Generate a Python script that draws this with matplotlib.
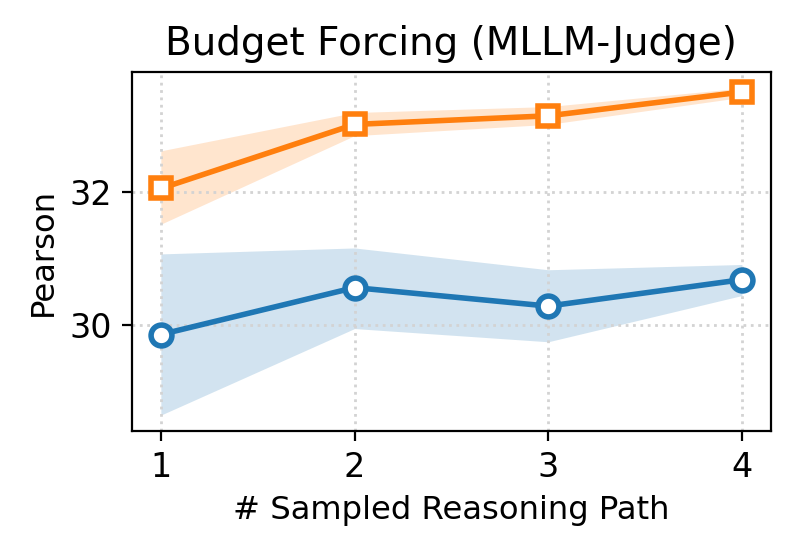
import numpy as np
import matplotlib.pyplot as plt

paths = [1, 2, 3, 4]

# blue series (circles)
blue_mean = [29.85, 30.56, 30.28, 30.68]
blue_low = [28.63, 29.94, 29.74, 30.44]
blue_high = [31.07, 31.16, 30.83, 30.91]

# orange series (squares)
orange_mean = [32.06, 33.03, 33.16, 33.52]
orange_low = [31.52, 32.86, 33.03, 33.44]
orange_high = [32.63, 33.21, 33.30, 33.58]

fig = plt.figure(figsize=(3.97, 2.78), dpi=200)
ax = fig.add_subplot(111)
fig.subplots_adjust(left=0.166, right=0.971, top=0.871, bottom=0.224)

ax.fill_between(paths, blue_low, blue_high, color="C0", alpha=0.2, linewidth=0)
ax.plot(paths, blue_mean, color="C0", marker="o", markersize=7.5,
        markerfacecolor="white", markeredgewidth=2, linewidth=2)

ax.fill_between(paths, orange_low, orange_high, color="C1", alpha=0.2, linewidth=0)
ax.plot(paths, orange_mean, color="C1", marker="s", markersize=7.5,
        markerfacecolor="white", markeredgewidth=2, linewidth=2)

ax.set_xticks(paths)
ax.set_yticks([30, 32])
ax.tick_params(labelsize=12)
ax.grid(True, linestyle=":", color="lightgray", linewidth=1)
ax.set_xlabel("# Sampled Reasoning Path", fontsize=11.6)
ax.set_ylabel("Pearson", fontsize=11.6)
ax.set_title("Budget Forcing (MLLM-Judge)", fontsize=14)

plt.savefig("out.png", dpi=200)
